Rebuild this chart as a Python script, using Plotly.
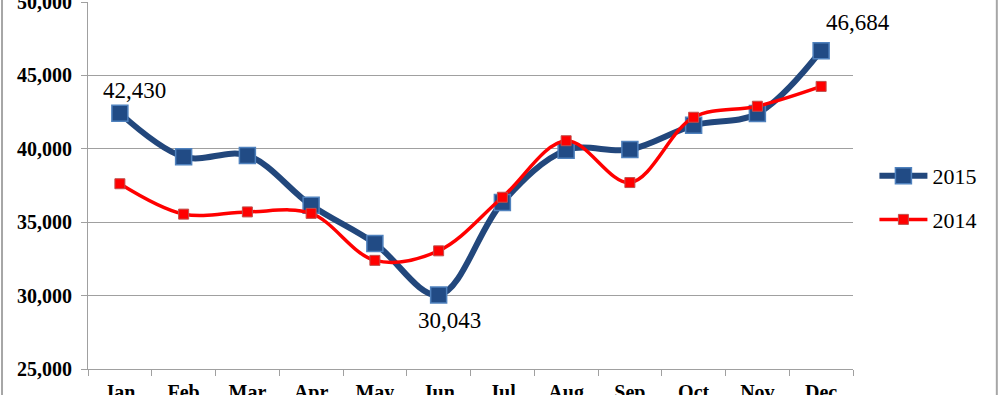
import plotly.graph_objects as go

months = ["Jan", "Feb", "Mar", "Apr", "May", "Jun", "Jul", "Aug", "Sep", "Oct", "Nov", "Dec"]
sales_2015 = [42430, 39450, 39550, 36150, 33550, 30043, 36350, 39900, 39950, 41600, 42400, 46684]
sales_2014 = [37620, 35550, 35700, 35600, 32400, 33050, 36700, 40550, 37700, 42150, 42900, 44250]
y_ticks = [25000, 30000, 35000, 40000, 45000, 50000]
labelled = {"Jan": "42,430", "Jun": "30,043", "Dec": "46,684"}

fig = go.Figure()
fig.add_trace(go.Scatter(
    x=months, y=sales_2015, name="2015", mode="lines+markers", legendgroup="a",
    line=dict(color="#22477C", width=6, shape="spline", smoothing=1),
    marker=dict(symbol="square", size=16, color="#214B85",
                line=dict(color="#4F81BD", width=1.5)),
))
fig.add_trace(go.Scatter(
    x=months, y=sales_2014, name="2014", mode="lines+markers", legendgroup="b",
    line=dict(color="#FF0000", width=3.5, shape="spline", smoothing=1),
    marker=dict(symbol="square", size=10, color="#FF0000",
                line=dict(color="#C0504D", width=1)),
))

# data labels (pixel offsets from marker)
offsets = {"Jan": (15, -23), "Jun": (11, 26), "Dec": (37, -28)}
for m, txt in labelled.items():
    i = months.index(m)
    dx, dy = offsets[m]
    fig.add_annotation(x=m, y=sales_2015[i], text=txt, showarrow=False,
                       xshift=dx, yshift=-dy,
                       font=dict(family="Liberation Serif", size=23, color="#000000"))

# outer frame (left/right border of the chart area)
for xp in [-0.1124, 1.188]:
    fig.add_shape(type="line", xref="paper", yref="paper", x0=xp, x1=xp, y0=-0.2, y1=1.2,
                  line=dict(color="#A6A6A6", width=2))

fig.update_layout(
    width=1000, height=395,
    margin=dict(l=88, r=147, t=2, b=26, autoexpand=False),
    paper_bgcolor="white", plot_bgcolor="white",
    showlegend=True,
    legend=dict(x=1.028, y=0.466, xanchor="left", yanchor="middle",
                font=dict(family="Liberation Serif", size=22, color="#000000"),
                bgcolor="rgba(0,0,0,0)", tracegroupgap=12, itemwidth=48),
    xaxis=dict(
        type="category", tickmode="array", tickvals=months,
        ticktext=[f"<b>{m}</b>" for m in months],
        showgrid=False, showline=True, linecolor="#A0A0A0", linewidth=1,
        ticks="outside", ticklen=6, tickcolor="#A0A0A0", tickson="boundaries",
        tickfont=dict(family="Liberation Serif", size=20, color="#000000"),
        range=[-0.5, 11.5], automargin=False, ticklabeloverflow="allow",
        ticklabelstandoff=5,
    ),
    yaxis=dict(
        range=[25000, 50000], tickmode="array", tickvals=y_ticks,
        ticktext=[f"<b>{v:,}</b>" for v in y_ticks],
        showgrid=True, gridcolor="#A0A0A0", gridwidth=1,
        showline=True, linecolor="#A0A0A0", linewidth=1,
        ticks="outside", ticklen=6, tickcolor="#A0A0A0",
        tickfont=dict(family="Liberation Serif", size=20, color="#000000"),
        zeroline=False, automargin=False, ticklabeloverflow="allow",
        ticklabelstandoff=5,
    ),
)

fig.write_html("out.html", config={"displayModeBar": False},
               post_script="document.body.style.margin='0';document.body.style.overflow='hidden';")
